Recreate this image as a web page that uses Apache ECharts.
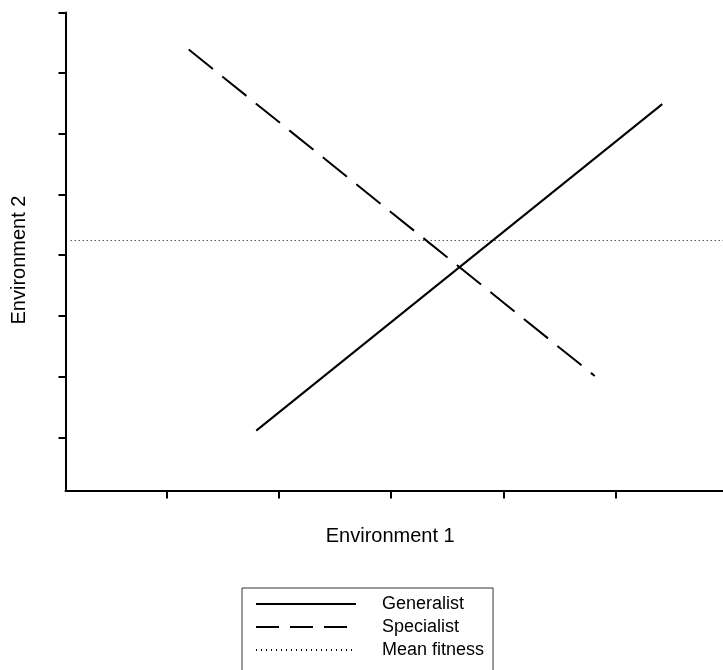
<!DOCTYPE html>
<html>
<head>
<meta charset="utf-8">
<script src="https://cdn.jsdelivr.net/npm/echarts@6/dist/echarts.min.js"></script>
<style>
  html, body { margin: 0; padding: 0; background: #fff; }
  #chart { width: 723px; height: 670px; }
</style>
</head>
<body>
<div id="chart"></div>
<script>
// Fitness of two strategies across two environments
const seriesNames = ['Generalist', 'Specialist', 'Mean fitness'];
const generalist = [[1.80, 1.11], [5.41, 6.49]];
const specialist = [[1.20, 7.39], [4.81, 2.01]];
const meanFitness = [[0.15, 4.243], [5.95, 4.243]];
const xTicks = [1, 2, 3, 4, 5];
const yTicks = [1, 2, 3, 4, 5, 6, 7, 8];

const FONT = '"Liberation Sans", Arial, sans-serif';
const INK = '#000';

const chart = echarts.init(document.getElementById('chart'), null, { renderer: 'canvas' });

chart.setOption({
  backgroundColor: '#fff',
  animation: false,
  grid: { left: 65.5, right: 0, top: 12.5, bottom: 179.5 },
  xAxis: {
    type: 'value',
    min: 0.104,
    max: 5.95,
    name: 'Environment 1',
    nameLocation: 'middle',
    nameGap: 36,
    nameTextStyle: { fontFamily: FONT, fontSize: 20, color: INK, padding: [0, 8, 0, 0] },
    axisLine: { show: true, onZero: false, lineStyle: { color: INK, width: 2 } },
    axisTick: { show: true, length: 8, customValues: xTicks, lineStyle: { color: INK, width: 2 } },
    axisLabel: { show: false },
    splitLine: { show: false }
  },
  yAxis: {
    type: 'value',
    min: 0.123,
    max: 8,
    name: 'Environment 2',
    nameLocation: 'middle',
    nameGap: 36,
    nameTextStyle: { fontFamily: FONT, fontSize: 20, color: INK, padding: [0, 17, 0, 0] },
    axisLine: { show: true, onZero: false, lineStyle: { color: INK, width: 2 } },
    axisTick: { show: true, length: 7, customValues: yTicks, lineStyle: { color: INK, width: 2 } },
    axisLabel: { show: false },
    splitLine: { show: false }
  },
  legend: {
    type: 'plain',
    orient: 'vertical',
    left: 242,
    top: 588,
    height: 200,
    padding: [7, 9, 20, 13],
    itemWidth: 100,
    itemHeight: 14,
    itemGap: 5,
    borderColor: '#333',
    borderWidth: 1,
    itemStyle: { opacity: 0 },
    textStyle: { fontFamily: FONT, fontSize: 18, color: INK, padding: [0, 0, 0, 21] },
    data: [
      { name: seriesNames[0] },
      { name: seriesNames[1], lineStyle: { type: [23, 11] } },
      { name: seriesNames[2], lineStyle: { type: [1, 4] } }
    ]
  },
  series: [
    {
      name: seriesNames[0],
      type: 'line',
      data: generalist,
      symbol: 'none',
      lineStyle: { color: INK, width: 2, type: 'solid' },
      itemStyle: { color: INK }
    },
    {
      name: seriesNames[1],
      type: 'line',
      data: specialist,
      symbol: 'none',
      lineStyle: { color: INK, width: 2, type: [31, 12] },
      itemStyle: { color: INK }
    },
    {
      name: seriesNames[2],
      type: 'line',
      data: meanFitness,
      symbol: 'none',
      lineStyle: { color: INK, width: 1, type: [1, 3] },
      itemStyle: { color: INK }
    }
  ]
});
</script>
</body>
</html>
